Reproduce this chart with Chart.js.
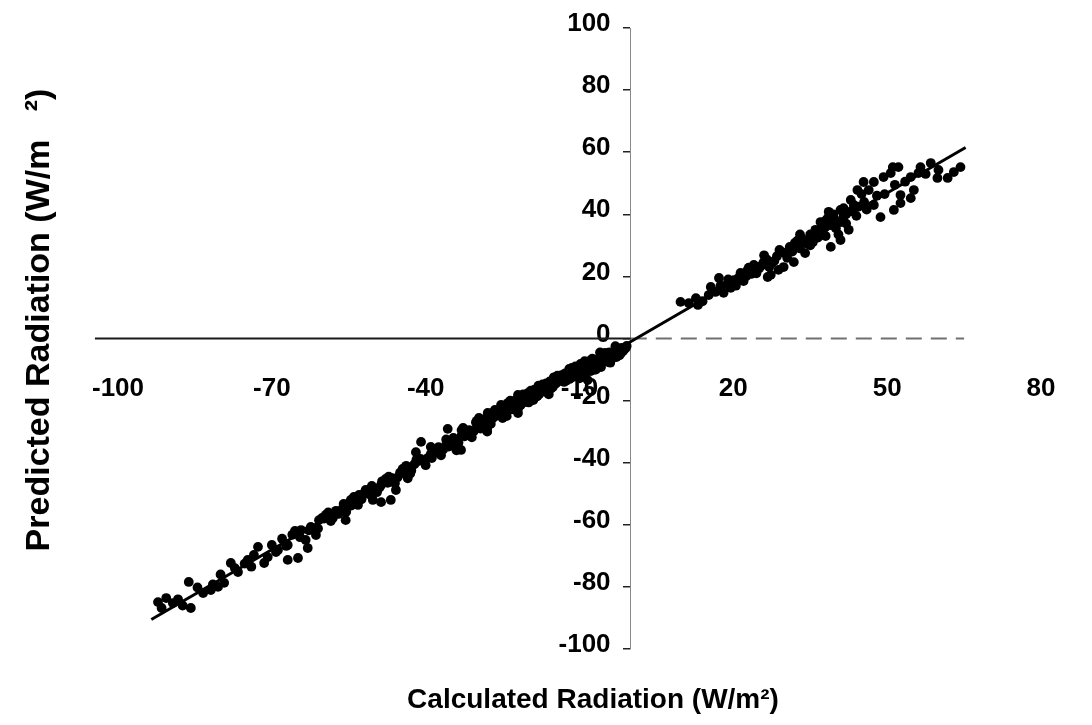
<!DOCTYPE html>
<html>
<head>
<meta charset="utf-8">
<script src="https://cdn.jsdelivr.net/npm/chart.js@4.4.1/dist/chart.umd.min.js"></script>
<style>
  html, body { margin: 0; padding: 0; background: #fff; }
  #wrap { width: 1092px; height: 725px; }
</style>
</head>
<body>
<div id="wrap"><canvas id="chart" width="1092" height="725"></canvas></div>
<script>
// Tick values for both axes
const xTicks = [-100, -70, -40, -10, 20, 50, 80];
const yTicks = [-100, -80, -60, -40, -20, 0, 20, 40, 60, 80, 100];

// Negative (night-time) radiation: calculated vs predicted, W/m²
const calcNeg = [-92.2,-91.5,-90.6,-89.3,-88.3,-87.4,-86.2,-85.8,-84.5,-83.4,-81.9,-81.5,-80.5,-80.0,-79.3,-78.0,-77.2,-76.6,-75.3,-74.7,
  -74.0,-73.5,-72.7,-71.5,-70.8,-70.0,-69.2,-68.8,-68.0,-67.2,-66.9,-66.9,-66.0,-65.5,-64.9,-64.5,-64.3,-63.4,-63.0,-62.4,
  -61.4,-61.0,-60.8,-60.2,-59.5,-59.0,-58.5,-58.1,-57.5,-56.5,-56.0,-55.6,-55.5,-54.6,-54.5,-53.2,-53.0,-52.0,-51.7,-50.5,
  -50.3,-50.3,-49.5,-48.7,-48.7,-48.5,-47.4,-47.2,-46.8,-46.0,-45.8,-45.0,-44.5,-44.0,-43.5,-43.0,-42.2,-41.9,-41.0,-40.9,
  -40.0,-39.0,-39.0,-38.4,-38.0,-37.0,-36.0,-35.7,-35.0,-34.0,-33.1,-33.0,-32.7,-32.0,-31.0,-30.0,-29.6,-29.0,-28.5,-28.0,
  -27.9,-27.0,-26.5,-26.0,-25.3,-25.0,-24.5,-24.0,-23.5,-23.0,-22.0,-22.0,-21.5,-21.0,-20.1,-19.8,-19.5,-19.0,-18.5,-18.0,
  -17.5,-17.0,-16.5,-16.0,-15.5,-15.0,-14.0,-13.5,-13.0,-12.5,-12.3,-12.0,-11.5,-11.0,-10.5,-10.0,-9.7,-9.5,-9.0,-8.8,
  -8.4,-8.0,-7.5,-7.0,-6.8,-6.5,-6.0,-5.8,-5.5,-5.0,-4.5,-4.0,-3.9,-3.5,-3.0,-2.8,-2.3,-2.0,-1.9,-1.8,-1.2,-1.0,
  -62.8,-59.8,-57.0,-54.0,-52.5,-51.0,-49.0,-47.8,-46.5,-45.5,
  -44.8,-43.8,-42.8,-41.8,-40.5,-39.6,-38.8,-37.5,-36.6,-35.5,-34.6,-33.6,-32.4,-31.5,-30.6,-30.2,-29.3,-28.2,-27.3,-26.8,
  -25.7,-24.8,-24.2,-23.2,-22.6,-21.8,-21.2,-20.6,-19.9,-19.2,-18.8,-18.2,-17.8,-17.2,-16.8,-16.2,-15.8,-15.2,-14.6,-14.3,
  -13.8,-13.2,-12.8,-12.0,-11.3,-10.8,-10.2,-9.8,-9.2,-8.6,-8.2,-7.8,-7.2,-6.3,-6.0,-5.2,-4.8,-4.2,-3.6,-3.2,
  -2.6,-2.2,-1.5,-0.8,
  -36.0,-33.0,-30.0,-27.0,-24.0,-21.0,-18.0,-15.0,-12.0,-9.0,-6.0,-3.0,
  -34.0,-28.0,-22.0,-16.0,-10.0,-7.0,-4.0];
const predNeg = [-84.9,-86.8,-83.6,-85.2,-84.0,-86.0,-78.4,-86.8,-80.2,-82.0,-81.0,-79.2,-80.0,-76.0,-78.7,-72.3,-74.0,-75.2,-72.5,-71.3,
  -73.5,-69.7,-67.1,-72.3,-70.4,-66.5,-68.8,-68.1,-64.5,-66.8,-71.3,-66.5,-63.2,-62.0,-70.7,-64.0,-61.7,-64.9,-67.5,-60.7,
  -63.3,-61.2,-58.5,-57.8,-56.8,-56.0,-58.8,-57.8,-55.5,-55.3,-53.3,-58.5,-55.8,-52.0,-53.8,-53.6,-50.4,-49.8,-48.8,-47.5,
  -48.2,-52.0,-49.5,-47.2,-52.7,-46.0,-46.5,-44.5,-52.0,-46.6,-48.8,-43.2,-42.0,-41.8,-45.0,-43.5,-40.5,-36.6,-38.8,-33.3,
  -40.8,-34.9,-37.2,-36.9,-36.0,-37.6,-34.2,-29.1,-33.0,-34.8,-35.9,-31.2,-28.8,-30.0,-31.8,-28.5,-25.6,-27.0,-26.0,-28.8,
  -24.0,-25.8,-23.0,-24.2,-21.4,-25.6,-24.5,-22.8,-20.0,-21.2,-18.2,-22.6,-21.5,-19.8,-17.6,-18.9,-16.8,-19.8,-18.8,-17.0,
  -15.6,-16.2,-14.5,-16.9,-16.0,-14.3,-12.8,-11.8,-14.0,-13.5,-12.4,-11.5,-9.5,-10.0,-12.2,-11.2,-10.8,-9.0,-8.8,-11.0,
  -13.4,-7.2,-6.5,-8.5,-10.0,-7.8,-6.0,-9.2,-5.5,-4.6,-7.5,-5.8,-6.9,-5.0,-3.8,-6.0,-4.3,-4.2,-4.7,-3.0,-3.4,-3.1,
  -61.8,-58.0,-56.5,-51.0,-51.8,-50.2,-48.0,-45.2,-45.0,-44.8,
  -43.5,-41.0,-42.5,-39.0,-39.5,-38.5,-38.5,-35.0,-35.8,-34.8,-32.0,-33.5,-31.5,-29.5,-29.8,-27.0,-29.0,-27.3,-27.5,-25.0,
  -23.5,-23.2,-25.0,-22.8,-20.0,-20.8,-18.5,-20.5,-20.6,-17.8,-16.5,-18.5,-17.8,-14.8,-17.0,-15.3,-13.8,-15.6,-14.5,-12.0,
  -13.6,-12.5,-11.2,-13.0,-11.3,-9.0,-10.3,-8.2,-10.0,-9.3,-8.5,-10.5,-7.5,-9.0,-7.4,-6.6,-5.5,-4.5,-6.2,-5.2,
  -3.6,-5.4,-4.0,-2.4,
  -32.5,-29.5,-26.5,-24.0,-20.8,-18.0,-15.2,-12.5,-9.8,-7.3,-4.5,-2.5,
  -36.0,-30.0,-24.0,-18.0,-12.8,-10.0,-7.8];

// Positive (daytime) radiation: calculated vs predicted, W/m²
const calcPos = [9.7,11.3,13.1,12.7,14.0,15.2,15.6,16.5,17.2,17.5,18.1,18.8,19.5,20.1,21.0,21.4,22.0,22.8,23.5,24.0,
  25.0,25.9,26.5,26.7,27.3,27.5,28.5,28.8,29.5,29.8,30.5,31.0,31.8,32.0,33.0,33.5,34.0,34.5,35.0,35.5,
  36.0,36.5,37.0,37.5,38.0,38.5,38.6,39.0,39.5,40.0,40.5,40.9,40.9,41.5,42.0,42.5,42.9,43.0,44.2,44.5,
  45.4,45.5,46.0,46.4,47.4,47.4,48.0,48.7,49.3,49.5,50.7,51.1,51.3,51.5,52.2,52.6,52.6,53.5,54.6,54.6,
  55.2,56.1,56.5,57.5,58.5,59.8,60.0,61.8,63.0,64.3,
  19.0,20.5,22.5,23.0,24.5,25.5,26.0,27.0,28.0,29.0,30.0,31.5,32.5,33.0,34.0,35.0,36.0,37.0,38.0,38.0,
  39.0,39.5,40.0,41.0,41.5,42.0,43.5,44.0,45.0];
const predPos = [11.8,11.4,10.8,13.0,12.0,14.0,16.6,15.0,19.5,17.0,14.7,17.5,16.3,18.8,19.5,21.1,18.5,22.1,20.8,23.7,
  22.5,24.6,25.5,19.8,20.5,24.2,26.5,22.1,27.8,23.0,26.0,29.5,24.6,30.8,29.0,32.0,27.5,30.5,33.5,31.0,
  35.0,32.5,37.5,34.0,36.0,39.0,40.8,29.5,38.5,35.5,33.5,41.4,31.7,39.5,37.0,35.0,44.6,41.0,47.8,42.5,
  50.4,44.0,41.5,47.8,50.4,43.0,46.0,39.1,52.0,46.5,53.3,55.2,41.4,49.5,55.2,43.6,46.2,50.5,52.0,45.2,
  47.8,53.3,55.2,53.0,56.5,51.7,54.3,51.7,53.6,55.2,
  19.0,17.0,20.0,22.8,21.0,23.5,26.8,23.0,25.0,28.5,27.5,28.0,31.5,33.5,31.0,30.0,33.0,35.0,33.0,38.0,
  36.5,40.0,38.0,37.5,42.0,40.0,43.0,39.5,46.5];

// Fitted regression line end points
const fitCalc = [-93.5, 65.3];
const fitPred = [-90.5, 61.5];

// Horizontal zero axis (solid on the left part, broken on the right part)
const zeroAxisLeft = [-104.5, 0];
const zeroAxisRight = [0, 65];

const xTitle = 'Calculated Radiation (W/m\u00B2)';
const yTitle = 'Predicted Radiation (W/m   \u00B2)';

const FONT = '"Liberation Sans", Arial, Helvetica, sans-serif';

const toPoints = (xs, ys) => xs.map((x, i) => ({ x: x, y: ys[i] }));

const axisTitles = {
  id: 'axisTitles',
  afterDraw(chart) {
    const ctx = chart.ctx;
    ctx.save();
    ctx.fillStyle = '#000';
    ctx.textAlign = 'center';
    ctx.textBaseline = 'alphabetic';
    ctx.font = 'bold 28px ' + FONT;
    ctx.fillText(xTitle, 593, 708);
    ctx.translate(49, 320);
    ctx.rotate(-Math.PI / 2);
    ctx.font = 'bold 34px ' + FONT;
    ctx.fillText(yTitle, 0, 0);
    ctx.restore();
  }
};

const dotStyle = {
  pointRadius: 4.9,
  pointHoverRadius: 4.9,
  pointBackgroundColor: '#000',
  pointBorderWidth: 0,
  order: 1
};

new Chart(document.getElementById('chart'), {
  type: 'scatter',
  data: {
    datasets: [
      Object.assign({ label: 'Night', data: toPoints(calcNeg, predNeg) }, dotStyle),
      Object.assign({ label: 'Day', data: toPoints(calcPos, predPos) }, dotStyle),
      {
        label: 'Fit',
        data: toPoints(fitCalc, fitPred),
        showLine: true,
        borderColor: '#000',
        borderWidth: 3,
        pointRadius: 0,
        order: 2
      },
      {
        label: 'Zero axis left',
        data: toPoints(zeroAxisLeft, [0, 0]),
        showLine: true,
        clip: false,
        borderColor: '#1a1a1a',
        borderWidth: 2,
        pointRadius: 0,
        order: 3
      },
      {
        label: 'Zero axis right',
        data: toPoints(zeroAxisRight, [0, 0]),
        showLine: true,
        clip: false,
        borderColor: '#707070',
        borderWidth: 2,
        borderDash: [16, 9],
        pointRadius: 0,
        order: 3
      }
    ]
  },
  options: {
    responsive: false,
    animation: false,
    devicePixelRatio: 1,
    layout: {
      autoPadding: false,
      padding: { left: 118, right: 51, top: 28, bottom: 76 }
    },
    plugins: {
      legend: { display: false },
      tooltip: { enabled: false },
      title: { display: false }
    },
    scales: {
      x: {
        type: 'linear',
        position: { y: 0 },
        min: -100,
        max: 80,
        afterBuildTicks: s => { s.ticks = xTicks.map(v => ({ value: v })); },
        grid: { display: false },
        border: { display: false },
        ticks: {
          padding: 27,
          color: '#000',
          font: { family: FONT, size: 26, weight: 'bold' },
          maxRotation: 0,
          autoSkip: false,
          callback: v => String(v)
        }
      },
      y: {
        type: 'linear',
        position: { x: 0 },
        min: -100,
        max: 100,
        afterBuildTicks: s => { s.ticks = yTicks.map(v => ({ value: v })); },
        grid: {
          display: true,
          drawOnChartArea: false,
          drawTicks: true,
          tickLength: 7,
          color: '#222',
          lineWidth: 1.5
        },
        border: { display: true, color: '#8a8a8a', width: 1, dash: [2, 9] },
        ticks: {
          color: '#000',
          labelOffset: -4,
          font: { family: FONT, size: 26, weight: 'bold' },
          autoSkip: false,
          callback: v => String(v) + '\u2002 '
        }
      }
    }
  },
  plugins: [axisTitles]
});
</script>
</body>
</html>
